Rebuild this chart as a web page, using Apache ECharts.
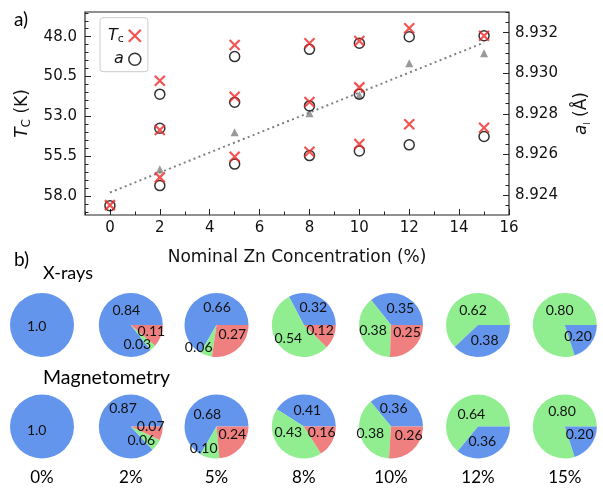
<!DOCTYPE html>
<html><head><meta charset="utf-8">
<script src="https://cdn.jsdelivr.net/npm/echarts@6/dist/echarts.min.js"></script>
<style>html,body{margin:0;padding:0;background:#fff}#c{width:603px;height:489px}</style>
</head><body><div id="c"></div>
<script>
// ---------------- data (panel a) ----------------
const tcX = [0, 2, 2, 2, 5, 5, 5, 8, 8, 8, 10, 10, 10, 12, 12, 15, 15];
const tcValues = [58.57, 50.76, 53.86, 56.83, 48.52, 51.77, 55.53, 48.41, 52.10, 55.22, 48.27, 51.18, 54.74, 47.47, 53.50, 47.94, 53.71];
const aX = [0, 2, 2, 2, 5, 5, 5, 8, 8, 8, 10, 10, 10, 12, 12, 15, 15];
const aValues = [8.92347, 8.92897, 8.92729, 8.92446, 8.93082, 8.92857, 8.92552, 8.93118, 8.92839, 8.92594, 8.93148, 8.92897, 8.92617, 8.93180, 8.92647, 8.93185, 8.92688];
const avgX = [2, 5, 8, 10, 12, 15];
const avgValues = [8.92527, 8.92709, 8.92803, 8.92893, 8.93049, 8.93099];
const fitX = [0, 15];
const fitValues = [8.92412, 8.93151];
const xTicks = [0, 2, 4, 6, 8, 10, 12, 14, 16];
const tcTicks = [48.0, 50.5, 53.0, 55.5, 58.0];
const aTicks = [8.924, 8.926, 8.928, 8.930, 8.932];

// ---------------- data (panel b) ----------------
const concLabels = ['0%', '2%', '5%', '8%', '10%', '12%', '15%'];
const xrayBlue  = [1.0, 0.84, 0.66, 0.32, 0.35, 0.38, 0.20];
const xrayGreen = [0, 0.03, 0.06, 0.54, 0.38, 0.62, 0.80];
const xrayRed   = [0, 0.11, 0.27, 0.12, 0.25, 0, 0];
const magBlue   = [1.0, 0.87, 0.68, 0.41, 0.36, 0.36, 0.20];
const magGreen  = [0, 0.06, 0.10, 0.43, 0.38, 0.64, 0.80];
const magRed    = [0, 0.07, 0.24, 0.16, 0.26, 0, 0];

// ---------------- layout / style ----------------
const sliceOrder = ['bgr', 'bgr', 'bgr', 'bgr', 'bgr', 'gb', 'gb'];
const sliceColors = { b: '#6495ED', g: '#90EE90', r: '#F08080' };
const pieCentersX = [42, 130.8, 216.5, 303.8, 391, 478, 564.8];
const pieRowsY = [325, 426.5];
const pieRadius = 32;
// label nudges relative to pie centre, in slice order
const xrayLabelPos = [
  [[-5.3, 1.7]],
  [[-4.5, -14.3], [6.5, 19], [20.5, 6.7]],
  [[0.5, -17.7], [-17.8, 22.3], [15.8, 9]],
  [[9.5, -17.7], [-15.5, 13.3], [16.2, 5]],
  [[9.3, -16.7], [-18, 5.7], [16, 7.7]],
  [[-5, -14.3], [6.7, 15.7]],
  [[-5.1, -14.3], [13.2, 11]]
];
const magLabelPos = [
  [[-5.3, 3.5]],
  [[-7.8, -18.2], [10.5, 13.5], [19.9, -0.5]],
  [[-9.2, -12.5], [-12.8, 21.8], [15.8, 7.5]],
  [[3.5, -16.5], [-15.5, 6.2], [17.9, 6.2]],
  [[2.7, -18.2], [-20.7, 6.8], [17.7, 9.2]],
  [[-6.7, -12.5], [4.3, 15.2]],
  [[-2.8, -14.8], [14.9, 7.5]]
];

const RED = '#f02a2a';
const AX = '#222';
const FONT_A = "'DejaVu Sans'";
const FONT_B = 'Lato';
const crossPath = 'path://M0,0L10,10M10,0L0,10';

function range(a, b, step) { const out = []; for (let v = a; v <= b + 1e-9; v += step) out.push(+v.toFixed(6)); return out; }
const xMinor = range(-1, 16, 1).filter(v => xTicks.indexOf(v) < 0);
const tcMinor = range(46.5, 59.0, 0.5).filter(v => !tcTicks.some(t => Math.abs(t - v) < 1e-6));
const aMinor = range(8.9235, 8.9330, 0.0005).filter(v => !aTicks.some(t => Math.abs(t - v) < 1e-7));

const TC_MIN = 46.45, TC_MAX = 59.19, A_MIN = 8.92301, A_MAX = 8.93302;

const tickStyle = { color: AX, width: 1 };
const labelStyle = { fontFamily: FONT_A, fontSize: 15, color: '#111' };
const noLine = { show: false, onZero: false };

function pieSeries(blue, green, red, labelPos, rowIdx) {
  const res = [];
  for (let i = 0; i < blue.length; i++) {
    const vals = { b: blue[i], g: green[i], r: red[i] };
    const data = [];
    sliceOrder[i].split('').forEach(k => {
      if (vals[k] > 0) data.push({ value: vals[k], itemStyle: { color: sliceColors[k] } });
    });
    const cx = pieCentersX[i], cy = pieRowsY[rowIdx];
    const pos = labelPos[i];
    res.push({
      type: 'pie', center: [cx, cy], radius: pieRadius, startAngle: 0, clockwise: false,
      silent: true, animation: false, avoidLabelOverlap: false,
      itemStyle: { borderWidth: 0 },
      emphasis: { disabled: true },
      label: {
        show: true, position: 'inside', fontFamily: FONT_B, fontSize: 14, color: '#111',
        formatter: p => (p.value === 1 ? '1.0' : p.value.toFixed(2))
      },
      labelLine: { show: false },
      labelLayout: p => {
        const o = pos[p.dataIndex] || [0, 0];
        return { x: cx + o[0], y: cy + o[1], align: 'center', verticalAlign: 'middle' };
      },
      data
    });
  }
  return res;
}

const chart = echarts.init(document.getElementById('c'), null, { renderer: 'canvas' });

const graphics = [
  { type: 'text', x: 14, y: 20, style: { text: 'a)', fontFamily: FONT_B, fontSize: 19, fill: '#000', verticalAlign: 'middle' } },
  { type: 'text', x: 14, y: 260, style: { text: 'b)', fontFamily: FONT_B, fontSize: 19, fill: '#000', verticalAlign: 'middle' } },
  { type: 'text', x: 43, y: 273, style: { text: 'X-rays', fontFamily: FONT_B, fontSize: 18, fill: '#000', verticalAlign: 'middle' } },
  { type: 'text', x: 43, y: 378, style: { text: 'Magnetometry', fontFamily: FONT_B, fontSize: 19.5, fill: '#000', verticalAlign: 'middle' } }
];
concLabels.forEach((t, i) => graphics.push({
  type: 'text', x: pieCentersX[i], y: 478,
  style: { text: t, fontFamily: FONT_B, fontSize: 17, fill: '#000', align: 'center', verticalAlign: 'middle' }
}));

const option = {
  animation: false,
  textStyle: { fontFamily: FONT_A },
  grid: { left: 85, right: 94, top: 12, bottom: 274, show: true, borderColor: AX, borderWidth: 1.2, backgroundColor: 'rgba(0,0,0,0)' },
  legend: {
    left: 100, top: 17.7, orient: 'vertical', align: 'right',
    padding: [10, 6, 4.5, 8], itemGap: 6.5, itemWidth: 12, itemHeight: 12,
    borderColor: '#cccccc', borderWidth: 1, borderRadius: 3, backgroundColor: '#fff',
    selectedMode: false,
    data: [
      { name: 'Tc', icon: crossPath, itemStyle: { color: 'rgba(0,0,0,0)', borderColor: RED, borderWidth: 2.2 } },
      { name: 'a', icon: 'circle', itemStyle: { color: 'rgba(0,0,0,0)', borderColor: '#000', borderWidth: 1.5 } }
    ],
    formatter: n => (n === 'Tc' ? '{i|T}{s|c}' : '{i|a}'),
    textStyle: {
      width: 20,
      rich: {
        i: { fontFamily: FONT_A, fontStyle: 'italic', fontSize: 16, color: '#111', lineHeight: 18 },
        s: { fontFamily: FONT_A, fontSize: 11, color: '#111', lineHeight: 8, verticalAlign: 'bottom' }
      }
    }
  },
  xAxis: [
    {
      type: 'value', min: -1, max: 16, position: 'bottom',
      axisLine: noLine, splitLine: { show: false },
      axisTick: { show: true, inside: true, length: 6, customValues: xTicks, lineStyle: tickStyle },
      axisLabel: Object.assign({ customValues: xTicks, margin: 6 }, labelStyle),
      name: 'Nominal Zn Concentration (%)', nameLocation: 'middle', nameGap: 34,
      nameTextStyle: { fontFamily: FONT_A, fontSize: 17, color: '#111' }
    },
    {
      type: 'value', min: -1, max: 16, position: 'bottom',
      axisLine: noLine, splitLine: { show: false }, axisLabel: { show: false },
      axisTick: { show: true, inside: true, length: 3.5, customValues: xMinor, lineStyle: tickStyle }
    }
  ],
  yAxis: [
    {
      type: 'value', inverse: true, min: TC_MIN, max: TC_MAX, position: 'left',
      axisLine: noLine, splitLine: { show: false },
      axisTick: { show: true, inside: true, length: 6, customValues: tcTicks, lineStyle: tickStyle },
      axisLabel: Object.assign({ customValues: tcTicks, margin: 8, formatter: v => v.toFixed(1) }, labelStyle),
      name: '{i|T}{s|C}{n| (K)}', nameLocation: 'middle', nameRotate: 90, nameGap: 46,
      nameTextStyle: {
        rich: {
          i: { fontFamily: FONT_A, fontStyle: 'italic', fontSize: 17, color: '#111', lineHeight: 20 },
          s: { fontFamily: FONT_A, fontSize: 12, color: '#111', lineHeight: 9, verticalAlign: 'bottom' },
          n: { fontFamily: FONT_A, fontSize: 17, color: '#111', lineHeight: 20 }
        }
      }
    },
    {
      type: 'value', min: A_MIN, max: A_MAX, position: 'right',
      axisLine: noLine, splitLine: { show: false },
      axisTick: { show: true, inside: true, length: 6, customValues: aTicks, lineStyle: tickStyle },
      axisLabel: Object.assign({ customValues: aTicks, margin: 6, formatter: v => v.toFixed(3) }, labelStyle),
      name: '{i|a}{s|l}{n| (Å)}', nameLocation: 'middle', nameRotate: 90, nameGap: 63,
      nameTextStyle: {
        rich: {
          i: { fontFamily: FONT_A, fontStyle: 'italic', fontSize: 17, color: '#111', lineHeight: 20 },
          s: { fontFamily: FONT_A, fontSize: 8, color: '#111', lineHeight: 7, verticalAlign: 'bottom' },
          n: { fontFamily: FONT_A, fontSize: 17, color: '#111', lineHeight: 20 }
        }
      }
    },
    {
      type: 'value', inverse: true, min: TC_MIN, max: TC_MAX, position: 'left',
      axisLine: noLine, splitLine: { show: false }, axisLabel: { show: false },
      axisTick: { show: true, inside: true, length: 3.5, customValues: tcMinor, lineStyle: tickStyle }
    },
    {
      type: 'value', min: A_MIN, max: A_MAX, position: 'right',
      axisLine: noLine, splitLine: { show: false }, axisLabel: { show: false },
      axisTick: { show: true, inside: true, length: 3.5, customValues: aMinor, lineStyle: tickStyle }
    }
  ],
  graphic: graphics,
  series: [
    {
      name: 'fit', type: 'line', xAxisIndex: 0, yAxisIndex: 1, silent: true,
      data: fitX.map((x, i) => [x, fitValues[i]]), symbol: 'none',
      lineStyle: { color: '#808080', width: 2, type: [2, 3.3] }, z: 2
    },
    {
      name: 'avg', type: 'scatter', xAxisIndex: 0, yAxisIndex: 1, silent: true,
      data: avgX.map((x, i) => [x, avgValues[i]]), symbol: 'triangle', symbolSize: 8,
      itemStyle: { color: '#808080' }, z: 3
    },
    {
      name: 'a', type: 'scatter', xAxisIndex: 0, yAxisIndex: 1, silent: true,
      data: aX.map((x, i) => [x, aValues[i]]), symbol: 'circle', symbolSize: 10,
      itemStyle: { color: 'rgba(0,0,0,0)', borderColor: '#000', borderWidth: 1.5 }, z: 4
    },
    {
      name: 'Tc', type: 'scatter', xAxisIndex: 0, yAxisIndex: 0, silent: true,
      data: tcX.map((x, i) => [x, tcValues[i]]), symbol: crossPath, symbolSize: 10,
      itemStyle: { color: 'rgba(0,0,0,0)', borderColor: RED, borderWidth: 2.2 }, z: 5
    }
  ].concat(pieSeries(xrayBlue, xrayGreen, xrayRed, xrayLabelPos, 0))
   .concat(pieSeries(magBlue, magGreen, magRed, magLabelPos, 1))
};
chart.setOption(option);
</script>
</body></html>
